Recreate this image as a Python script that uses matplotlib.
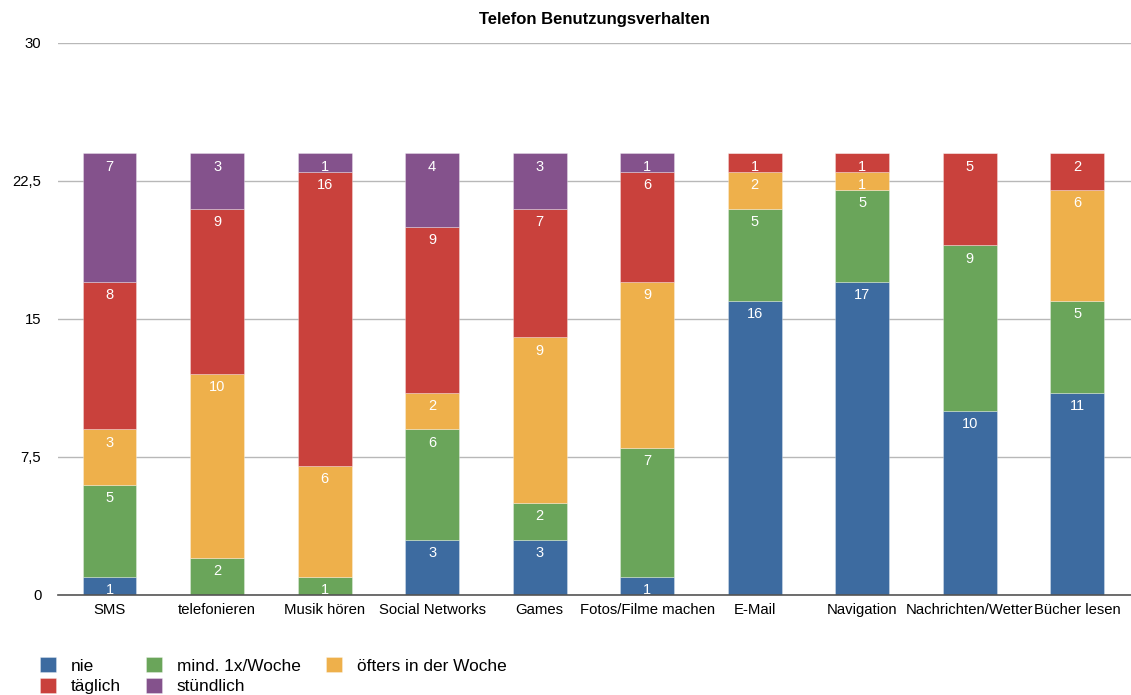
import numpy as np
import matplotlib
matplotlib.use("Agg")
import matplotlib.pyplot as plt
from matplotlib.ticker import FuncFormatter

plt.rcParams["font.family"] = ["Liberation Sans", "DejaVu Sans"]

CATEGORIES = ["SMS", "telefonieren", "Musik hören", "Social Networks", "Games",
              "Fotos/Filme machen", "E-Mail", "Navigation", "Nachrichten/Wetter", "Bücher lesen"]
SERIES = ["nie", "mind. 1x/Woche", "öfters in der Woche", "täglich", "stündlich"]
nie = [1, 0, 0, 3, 3, 1, 16, 17, 10, 11]
mind_woche = [5, 2, 1, 6, 2, 7, 5, 5, 9, 5]
oefters = [3, 10, 6, 2, 9, 9, 2, 1, 0, 6]
taeglich = [8, 9, 16, 9, 7, 6, 1, 1, 5, 2]
stuendlich = [7, 3, 1, 4, 3, 1, 0, 0, 0, 0]
COLORS = ["#3d6ba0", "#6aa55a", "#eeb04b", "#c9413c", "#84528c"]
YTICKS = [0, 7.5, 15, 22.5, 30]

fig = plt.figure(figsize=(11.31, 6.95), dpi=100)
ax = fig.add_axes([58 / 1131, 1 - 595 / 695, 1 - 58 / 1131, (595 - 43) / 695])

xs = np.arange(len(CATEGORIES))
bottom = np.zeros(len(CATEGORIES))
handles = []
for name, vals, col in zip(SERIES, [nie, mind_woche, oefters, taeglich, stuendlich], COLORS):
    vals = np.array(vals, dtype=float)
    b = ax.bar(xs, vals, width=0.5, bottom=bottom, color=col, edgecolor=(1, 1, 1, 0.35),
               linewidth=0.6, zorder=3, label=name)
    handles.append(b)
    for x, v, bt in zip(xs, vals, bottom):
        if v > 0:
            ax.annotate(f"{int(v)}", (x, bt + v), textcoords="offset points", xytext=(0, -9.5),
                        ha="center", va="center", fontsize=10.5, color="white", zorder=4)
    bottom += vals

ax.set_xlim(-0.48, 9.5)
ax.set_ylim(0, 30)
ax.set_yticks(YTICKS)
ax.yaxis.set_major_formatter(FuncFormatter(lambda v, _: f"{v:g}".replace(".", ",")))
ax.set_xticks(xs)
ax.set_xticklabels(CATEGORIES, fontsize=10.7)
ax.tick_params(axis="y", length=0, pad=12, labelsize=10.7)
ax.tick_params(axis="x", length=0, pad=6)
ax.grid(axis="y", color="#b8b8b8", lw=1.0, zorder=0)
for s in ["top", "right", "left"]:
    ax.spines[s].set_visible(False)
ax.spines["bottom"].set_color("#555555")
ax.spines["bottom"].set_linewidth(1.2)
ax.spines["bottom"].set_zorder(5)

ax.set_title("Telefon Benutzungsverhalten", fontsize=12, fontweight="bold", pad=14)

order = [0, 3, 1, 4, 2]
fig.legend([handles[i] for i in order], [SERIES[i] for i in order], ncol=3,
           loc="upper left", bbox_to_anchor=(0.035, 0.054), frameon=False, fontsize=12.4,
           handlelength=0.95, handleheight=0.95, handletextpad=0.85, columnspacing=1.45,
           labelspacing=0.25, borderaxespad=0, borderpad=0)

fig.savefig("out.png", dpi=100)
